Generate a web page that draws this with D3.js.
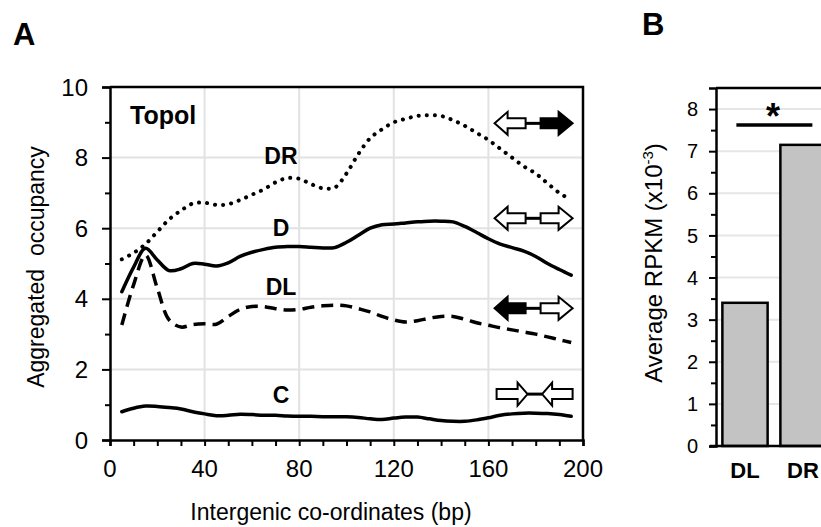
<!DOCTYPE html>
<html>
<head>
<meta charset="utf-8">
<script src="https://cdn.jsdelivr.net/npm/d3@7"></script>
<style>
  body { margin: 0; background: #fff; }
  svg { display: block; font-family: "Liberation Sans", Arial, sans-serif; }
</style>
</head>
<body>
<svg id="fig" width="821" height="527"></svg>
<script>
// ---- panel A data ----
var positions = [5, 10, 15, 20, 25, 30, 35, 40, 45, 50, 55, 60, 65, 70, 75, 80, 85, 90, 95, 100,
    105, 110, 115, 120, 125, 130, 135, 140, 145, 150, 155, 160, 165, 170, 175, 180, 185, 190, 195];

var drValues = [5.12, 5.3, 5.55, 5.9, 6.25, 6.5, 6.7, 6.72, 6.66, 6.68, 6.8, 6.95, 7.1, 7.3, 7.42, 7.4, 7.25, 7.13, 7.15, 7.55,
    8.1, 8.55, 8.8, 9.0, 9.1, 9.18, 9.2, 9.18, 9.06, 8.9, 8.7, 8.5, 8.25, 8.0, 7.75, 7.55, 7.27, 7.0, 6.8];
var dValues = [4.2, 4.9, 5.43, 5.1, 4.8, 4.85, 5.0, 4.98, 4.93, 5.02, 5.2, 5.32, 5.4, 5.46, 5.48, 5.48, 5.46, 5.44, 5.45, 5.6,
    5.8, 6.0, 6.1, 6.12, 6.15, 6.18, 6.2, 6.2, 6.18, 6.05, 5.88, 5.7, 5.55, 5.45, 5.35, 5.2, 5.0, 4.83, 4.67];
var dlValues = [3.26, 4.4, 5.24, 4.3, 3.4, 3.2, 3.27, 3.29, 3.28, 3.5, 3.7, 3.78, 3.78, 3.72, 3.68, 3.7, 3.76, 3.8, 3.82, 3.8,
    3.72, 3.63, 3.5, 3.4, 3.34, 3.38, 3.45, 3.5, 3.5, 3.42, 3.32, 3.25, 3.18, 3.12, 3.06, 3.0, 2.92, 2.84, 2.76];
var cValues = [0.8, 0.9, 0.96, 0.95, 0.92, 0.88, 0.8, 0.74, 0.69, 0.7, 0.73, 0.72, 0.7, 0.7, 0.68, 0.67, 0.67, 0.66, 0.66, 0.66,
    0.64, 0.6, 0.58, 0.62, 0.65, 0.65, 0.6, 0.55, 0.53, 0.53, 0.57, 0.63, 0.7, 0.74, 0.76, 0.76, 0.75, 0.72, 0.67];

var seriesNames = ["DR", "D", "DL", "C"];
var xTicksA = [0, 40, 80, 120, 160, 200];
var yTicksA = [0, 2, 4, 6, 8, 10];

// ---- panel B data ----
var barCategories = ["DL", "DR"];
var barValues = [3.4, 7.15];
var yTicksB = [0, 1, 2, 3, 4, 5, 6, 7, 8];

var svg = d3.select("#fig");

// ================= panel A =================
var xA = d3.scaleLinear().domain([0, 200]).range([110, 583]);
var yA = d3.scaleLinear().domain([0, 10]).range([440, 87]);

var gA = svg.append("g");

// gridlines
gA.selectAll(".vgrid")
    .data([40, 80, 120, 160])
    .enter().append("line")
    .attr("x1", function (d) { return xA(d); })
    .attr("x2", function (d) { return xA(d); })
    .attr("y1", yA(0)).attr("y2", yA(10))
    .style("stroke", "#e2e2e2").style("stroke-width", 2);
gA.selectAll(".hgrid")
    .data([2, 4, 6, 8])
    .enter().append("line")
    .attr("x1", xA(0)).attr("x2", xA(200))
    .attr("y1", function (d) { return yA(d); })
    .attr("y2", function (d) { return yA(d); })
    .style("stroke", "#e2e2e2").style("stroke-width", 2);

// frame top / right
gA.append("path")
    .attr("d", "M" + xA(0) + "," + yA(10) + "H" + xA(200) + "V" + yA(0))
    .style("fill", "none").style("stroke", "#000").style("stroke-width", 2.5);

// axes
var yAxisA = gA.append("g")
    .attr("transform", "translate(" + xA(0) + ",0)")
    .call(d3.axisLeft(yA).tickValues(d3.range(0, 11, 1)).tickSize(8).tickFormat(""));
yAxisA.selectAll(".tick line")
    .attr("x2", function (d) { return d % 2 ? -5 : -8; });
var xAxisA = gA.append("g")
    .attr("transform", "translate(0," + yA(0) + ")")
    .call(d3.axisBottom(xA).tickValues(d3.range(0, 201, 10)).tickSize(6).tickFormat(""));
[yAxisA, xAxisA].forEach(function (ax) {
    ax.select(".domain").style("stroke-width", 2.5);
    ax.selectAll(".tick line").style("stroke-width", 2);
});

gA.selectAll(".ylab")
    .data(yTicksA)
    .enter().append("text")
    .attr("x", xA(0) - 22)
    .attr("y", function (d) { return yA(d); })
    .attr("dy", "0.36em")
    .attr("text-anchor", "end")
    .style("font-size", "24px")
    .text(function (d) { return d; });
gA.selectAll(".xlab")
    .data(xTicksA)
    .enter().append("text")
    .attr("x", function (d) { return xA(d); })
    .attr("y", 477)
    .attr("text-anchor", "middle")
    .style("font-size", "24px")
    .text(function (d) { return d; });

gA.append("text")
    .attr("transform", "translate(44,267) rotate(-90)")
    .attr("text-anchor", "middle")
    .style("font-size", "23px")
    .style("white-space", "pre")
    .text("Aggregated  occupancy");
gA.append("text")
    .attr("x", 331).attr("y", 520)
    .attr("text-anchor", "middle")
    .style("font-size", "23px")
    .text("Intergenic co-ordinates (bp)");

// curves
var line = d3.line()
    .x(function (d) { return xA(d[0]); })
    .y(function (d) { return yA(d[1]); })
    .curve(d3.curveCatmullRom.alpha(0.5));

var curves = [
    { name: "DR", values: drValues, dash: "0.1 8", width: 4 },
    { name: "D", values: dValues, dash: null, width: 3.5 },
    { name: "DL", values: dlValues, dash: "12 7", width: 3.5 },
    { name: "C", values: cValues, dash: null, width: 3.5 }
];
curves.forEach(function (c) {
    gA.append("path")
        .datum(positions.map(function (p, i) { return [p, c.values[i]]; }))
        .attr("d", line)
        .style("fill", "none")
        .style("stroke", "#000")
        .style("stroke-width", c.width)
        .style("stroke-linecap", c.dash ? (c.name == "DR" ? "round" : "butt") : "round")
        .style("stroke-dasharray", c.dash);
});

// labels on curves
var labelY = [7.82, 5.78, 4.1, 1.05];
gA.selectAll(".slab")
    .data(seriesNames)
    .enter().append("text")
    .attr("x", xA(72.3))
    .attr("y", function (d, i) { return yA(labelY[i]); })
    .attr("text-anchor", "middle")
    .style("font-size", "23px")
    .style("font-weight", "bold")
    .text(function (d) { return d; });
gA.append("text")
    .attr("x", xA(8.5)).attr("y", yA(8.95))
    .style("font-size", "25px").style("font-weight", "bold")
    .text("Topol");

// gene orientation glyphs
var glyphY = [8.97, 6.28, 3.73, 1.30];
var glyphKind = ["div", "div", "div", "conv"];
var glyphFill = [["#fff", "#000"], ["#fff", "#fff"], ["#000", "#fff"], ["#fff", "#fff"]];

function arrowPath(tip, back, end, cy, dir) {
    // tip: x of point, back: x where head meets body, end: body end
    var hh = 11.5, bh = 5;
    return "M" + tip + "," + cy +
        "L" + back + "," + (cy - hh) +
        "L" + back + "," + (cy - bh) +
        "L" + end + "," + (cy - bh) +
        "L" + end + "," + (cy + bh) +
        "L" + back + "," + (cy + bh) +
        "L" + back + "," + (cy + hh) + "Z";
}

glyphY.forEach(function (gy, i) {
    var cy = yA(gy);
    var x0 = xA(162.2);
    var g = gA.append("g");
    var left, right, c1, c2;
    if (glyphKind[i] == "div") {
        left = arrowPath(x0 + 1, x0 + 14, x0 + 32, cy);
        right = arrowPath(x0 + 79, x0 + 65, x0 + 47, cy);
        c1 = x0 + 32; c2 = x0 + 47;
    } else {
        left = arrowPath(x0 + 34, x0 + 24, x0 + 3, cy);
        right = arrowPath(x0 + 48.5, x0 + 58.5, x0 + 79, cy);
        c1 = x0 + 34; c2 = x0 + 48.5;
    }
    g.append("line")
        .attr("x1", c1).attr("x2", c2).attr("y1", cy).attr("y2", cy)
        .style("stroke", "#000").style("stroke-width", 3);
    g.append("path").attr("d", left)
        .style("fill", glyphFill[i][0]).style("stroke", "#000").style("stroke-width", 2)
        .style("stroke-linejoin", "miter");
    g.append("path").attr("d", right)
        .style("fill", glyphFill[i][1]).style("stroke", "#000").style("stroke-width", 2)
        .style("stroke-linejoin", "miter");
});

svg.append("text").attr("x", 13).attr("y", 45)
    .style("font-size", "31px").style("font-weight", "bold").text("A");

// ================= panel B =================
var xB = d3.scaleBand().domain(barCategories).range([716, 832]).paddingInner(0.22).paddingOuter(0.11);
var yB = d3.scaleLinear().domain([0, 8.5]).range([446, 88]);

var gB = svg.append("g");

gB.selectAll(".hgridB")
    .data(yTicksB.slice(1))
    .enter().append("line")
    .attr("x1", 716).attr("x2", 821)
    .attr("y1", function (d) { return yB(d); })
    .attr("y2", function (d) { return yB(d); })
    .style("stroke", "#e6e6e6").style("stroke-width", 2);

gB.selectAll(".bar")
    .data(barValues)
    .enter().append("rect")
    .attr("x", function (d, i) { return xB(barCategories[i]); })
    .attr("y", function (d) { return yB(d); })
    .attr("width", xB.bandwidth())
    .attr("height", function (d) { return yB(0) - yB(d); })
    .style("fill", "#c3c3c3")
    .style("stroke", "#000")
    .style("stroke-width", 2.5);

gB.append("line")
    .attr("x1", 716).attr("x2", 821).attr("y1", yB(8.5)).attr("y2", yB(8.5))
    .style("stroke", "#000").style("stroke-width", 2.5);
gB.append("line")
    .attr("x1", 710).attr("x2", 821).attr("y1", yB(0)).attr("y2", yB(0))
    .style("stroke", "#000").style("stroke-width", 2.5);

var yAxisB = gB.append("g")
    .attr("transform", "translate(716,0)")
    .call(d3.axisLeft(yB).tickValues(d3.range(0, 8.01, 0.5)).tickSize(7).tickFormat(""));
yAxisB.select(".domain").style("stroke-width", 2.5);
yAxisB.selectAll(".tick line")
    .style("stroke-width", 2)
    .attr("x2", function (d) { return d % 1 ? -5 : -7; });

gB.selectAll(".ylabB")
    .data(yTicksB)
    .enter().append("text")
    .attr("x", 698)
    .attr("y", function (d) { return yB(d); })
    .attr("dy", "0.36em")
    .attr("text-anchor", "end")
    .style("font-size", "20px")
    .text(function (d) { return d; });

gB.selectAll(".xlabB")
    .data(barCategories)
    .enter().append("text")
    .attr("x", function (d) { return xB(d) + xB.bandwidth() / 2; })
    .attr("y", 478)
    .attr("text-anchor", "middle")
    .style("font-size", "22px").style("font-weight", "bold")
    .text(function (d) { return d; });

var tB = gB.append("text")
    .attr("transform", "translate(662,263) rotate(-90)")
    .attr("text-anchor", "middle")
    .style("font-size", "24px");
tB.append("tspan").text("Average RPKM (x10");
tB.append("tspan").attr("dy", -9).style("font-size", "15px").text("-3");
tB.append("tspan").attr("dy", 9).text(")");

// significance
gB.append("line")
    .attr("x1", xB("DL") + 14).attr("x2", xB("DR") + 32)
    .attr("y1", 125).attr("y2", 125)
    .style("stroke", "#000").style("stroke-width", 3.5);
gB.append("text")
    .attr("x", 773).attr("y", 129)
    .attr("text-anchor", "middle")
    .style("font-size", "36px").style("font-weight", "bold")
    .text("*");

svg.append("text").attr("x", 642).attr("y", 35)
    .style("font-size", "31px").style("font-weight", "bold").text("B");
</script>
</body>
</html>
